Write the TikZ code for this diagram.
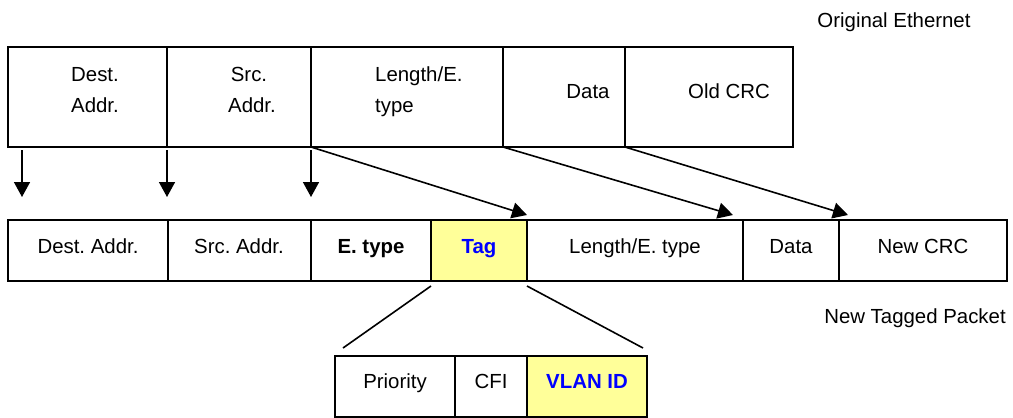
\documentclass[tikz,border=0pt]{standalone}
\usepackage{fontspec}
\setmainfont{Liberation Sans}
\usetikzlibrary{arrows.meta,calc}
\definecolor{tagyellow}{HTML}{FFFF99}
\definecolor{tagblue}{HTML}{0000FF}
\frenchspacing
\begin{document}
\begin{tikzpicture}[x=1pt,y=-1pt,
  font=\fontsize{20.4}{24}\selectfont\frenchspacing,
  box/.style={draw, line width=2.2pt, inner sep=0pt, outer sep=0pt, anchor=north west},
  hl/.style={fill=tagyellow},
  lbl/.style={anchor=base, inner sep=0pt},
  lbll/.style={anchor=base west, inner sep=0pt},
  bluebold/.style={text=tagblue, font=\fontsize{20.4}{24}\selectfont\bfseries},
  arr/.style={line width=1.6pt, -{Triangle[length=15pt,width=16pt]}},
  ln/.style={line width=1.6pt}
]
\useasboundingbox (0,0) rectangle (1013,418);

% Original Ethernet frame
\node[box, minimum width=159pt, minimum height=100pt] (o1) at (8,47) {};
\node[box, minimum width=144pt, minimum height=100pt] (o2) at (167,47) {};
\node[box, minimum width=192pt, minimum height=100pt] (o3) at (311,47) {};
\node[box, minimum width=122pt, minimum height=100pt] (o4) at (503,47) {};
\node[box, minimum width=168pt, minimum height=100pt] (o5) at (625,47) {};

\node[lbl] (t1a) at (95,81) {Dest.};
\node[lbl] (t1b) at (95,112) {Addr.};
\node[lbl] (t2a) at (249,81) {Src.};
\node[lbl] (t2b) at (252,112) {Addr.};
\node[lbll] (t3a) at (375,81) {Length/E.};
\node[lbll] (t3b) at (375,112) {type};
\node[lbl] (t4) at (588,98) {Data};
\node[lbl] (t5) at (729,98) {Old CRC};

\node[lbl] (title1) at (894,27) {Original Ethernet};

% New tagged packet
\node[box, minimum width=160pt, minimum height=61pt] (n1) at (8,220) {};
\node[box, minimum width=143pt, minimum height=61pt] (n2) at (168,220) {};
\node[box, minimum width=120pt, minimum height=61pt] (n3) at (311,220) {};
\node[box, hl, minimum width=96pt, minimum height=61pt] (n4) at (431,220) {};
\node[box, minimum width=216pt, minimum height=61pt] (n5) at (527,220) {};
\node[box, minimum width=96pt, minimum height=61pt] (n6) at (743,220) {};
\node[box, minimum width=168pt, minimum height=61pt] (n7) at (839,220) {};

\node[lbl] (u1) at (88,253) {Dest. Addr.};
\node[lbl] (u2) at (239,253) {Src. Addr.};
\node[lbl, font=\fontsize{20.4}{24}\selectfont\bfseries] (u3) at (371,253) {E. type};
\node[lbl, bluebold] (u4) at (479,253) {Tag};
\node[lbl] (u5) at (635,253) {Length/E. type};
\node[lbl] (u6) at (791,253) {Data};
\node[lbl] (u7) at (923,253) {New CRC};

\node[lbl] (title2) at (915,323) {New Tagged Packet};

% Tag detail
\node[box, minimum width=120pt, minimum height=61pt] (p1) at (335,356) {};
\node[box, minimum width=72pt, minimum height=61pt] (p2) at (455,356) {};
\node[box, hl, minimum width=120pt, minimum height=61pt] (p3) at (527,356) {};

\node[lbl] (v1) at (395,388) {Priority};
\node[lbl] (v2) at (491,388) {CFI};
\node[lbl, bluebold] (v3) at (587,388) {VLAN ID};

% Arrows
\draw[arr] ([xshift=14pt,yshift=-3pt]o1.south west) -- ([xshift=14pt,yshift=23pt]n1.north west);
\draw[arr] ([yshift=-3pt]o2.south west) -- ([xshift=-1pt,yshift=23pt]n2.north west);
\draw[arr] ([yshift=-3pt]o3.south west) -- ([yshift=23pt]n3.north west);
\draw[arr] (o3.south west) -- ([yshift=5pt]n4.north east);
\draw[arr] (o4.south west) -- ([xshift=-10pt,yshift=5pt]n5.north east);
\draw[arr] (o5.south west) -- ([xshift=9pt,yshift=5pt]n6.north east);

% Expansion lines
\draw[ln] ([yshift=-5pt]n4.south west) -- ([xshift=8pt,yshift=8pt]p1.north west);
\draw[ln] ([yshift=-5pt]n4.south east) -- ([xshift=-4pt,yshift=8pt]p3.north east);
\end{tikzpicture}
\end{document}
